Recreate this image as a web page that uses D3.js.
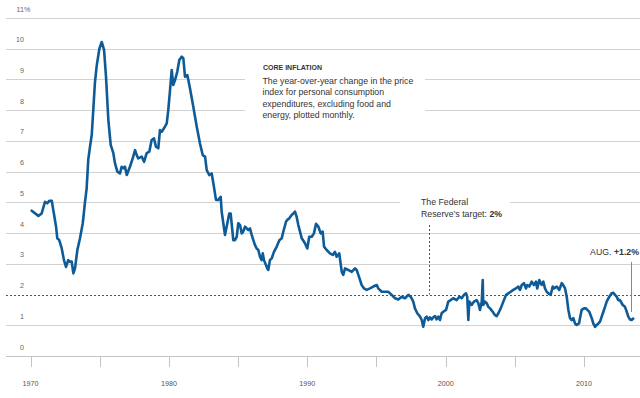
<!DOCTYPE html>
<html>
<head>
<meta charset="utf-8">
<script src="https://cdn.jsdelivr.net/npm/d3@7"></script>
<style>
  html, body { margin: 0; padding: 0; background: #fff; }
  svg { display: block; font-family: "Liberation Sans", Arial, sans-serif; }
</style>
</head>
<body>
<svg id="chart" width="640" height="398"></svg>
<script>
// ---- Data (decimal year, core PCE inflation %) ----
const years = [
  1970.08,1970.56,1970.80,1971.04,1971.21,1971.35,1971.53,1971.64,1971.84,1971.93,
  1972.07,1972.25,1972.41,1972.56,1972.72,1972.85,1972.97,1973.09,1973.21,1973.38,
  1973.57,1973.77,1973.93,1974.05,1974.17,1974.29,1974.42,1974.53,1974.65,1974.78,
  1974.97,1975.14,1975.31,1975.45,1975.62,1975.79,1975.98,1976.10,1976.27,1976.46,
  1976.58,1976.70,1976.82,1976.95,1977.18,1977.38,1977.55,1977.67,1977.78,1978.03,
  1978.20,1978.39,1978.58,1978.75,1978.92,1979.06,1979.23,1979.35,1979.48,1979.64,
  1979.84,1979.95,1980.08,1980.20,1980.31,1980.44,1980.60,1980.75,1980.92,1981.04,
  1981.16,1981.33,1981.52,1981.76,1982.01,1982.24,1982.44,1982.61,1982.73,1982.92,
  1983.09,1983.21,1983.40,1983.57,1983.74,1983.81,1983.93,1984.05,1984.17,1984.36,
  1984.46,1984.65,1984.77,1984.90,1985.01,1985.14,1985.26,1985.37,1985.50,1985.62,
  1985.74,1985.86,1985.98,1986.10,1986.22,1986.34,1986.46,1986.58,1986.70,1986.78,
  1986.87,1987.01,1987.11,1987.18,1987.30,1987.43,1987.59,1987.79,1987.98,1988.15,
  1988.27,1988.46,1988.55,1988.70,1988.87,1988.99,1989.11,1989.23,1989.35,1989.60,
  1989.83,1990.00,1990.14,1990.32,1990.48,1990.63,1990.80,1990.97,1991.11,1991.21,
  1991.40,1991.64,1991.84,1992.00,1992.12,1992.31,1992.49,1992.60,1992.73,1992.96,
  1993.21,1993.45,1993.57,1993.69,1993.93,1994.10,1994.29,1994.53,1994.77,1995.02,
  1995.13,1995.38,1995.62,1995.85,1996.10,1996.34,1996.58,1996.82,1997.06,1997.30,
  1997.47,1997.66,1997.78,1997.95,1998.15,1998.27,1998.38,1998.51,1998.63,1998.75,
  1998.87,1998.99,1999.11,1999.23,1999.35,1999.47,1999.59,1999.71,1999.83,2000.03,
  2000.19,2000.36,2000.55,2000.80,2000.99,2001.16,2001.33,2001.47,2001.56,2001.64,
  2001.71,2001.88,2002.05,2002.24,2002.36,2002.48,2002.61,2002.68,2002.72,2002.84,
  2002.97,2003.08,2003.21,2003.40,2003.57,2003.69,2003.81,2003.98,2004.17,2004.37,
  2004.53,2004.70,2004.89,2005.08,2005.25,2005.37,2005.50,2005.66,2005.81,2005.90,
  2006.05,2006.22,2006.38,2006.53,2006.62,2006.77,2006.94,2007.06,2007.18,2007.30,
  2007.42,2007.59,2007.74,2007.83,2008.03,2008.21,2008.39,2008.50,2008.63,2008.75,
  2008.87,2008.99,2009.11,2009.23,2009.35,2009.47,2009.64,2009.71,2009.83,2010.00,
  2010.14,2010.24,2010.38,2010.56,2010.67,2010.80,2010.92,2011.04,2011.16,2011.28,
  2011.40,2011.52,2011.64,2011.83,2012.00,2012.12,2012.24,2012.36,2012.48,2012.60,
  2012.80,2012.96,2013.09,2013.20,2013.32,2013.44,2013.56
];
const coreInflation = [
  4.73,4.56,4.64,5.02,4.97,5.05,5.05,4.75,4.21,3.83,
  3.77,3.50,3.12,2.90,3.12,3.07,3.07,2.69,2.85,3.45,
  3.83,4.32,5.00,5.45,6.40,6.80,7.20,8.00,8.90,9.45,
  10.00,10.22,9.96,9.09,7.68,6.87,6.60,6.27,6.00,5.94,
  6.16,6.11,6.16,5.89,6.16,6.43,6.70,6.54,6.43,6.49,
  6.32,6.60,6.65,7.03,7.08,6.81,6.76,7.35,7.30,7.41,
  7.57,8.00,8.66,9.31,8.82,8.98,9.25,9.63,9.74,9.69,
  9.09,9.14,8.71,8.11,7.46,6.92,6.54,6.49,6.05,5.89,
  5.94,5.62,5.08,5.08,5.18,4.70,4.32,3.94,4.21,4.64,
  4.64,3.77,3.77,3.88,4.32,4.26,3.99,4.05,4.21,4.15,
  4.10,4.15,3.94,3.77,3.61,3.50,3.45,3.23,3.12,3.34,
  3.12,2.96,2.85,2.80,3.12,3.18,3.39,3.56,3.77,3.83,
  4.05,4.37,4.43,4.48,4.59,4.64,4.70,4.53,4.26,3.83,
  3.67,3.50,3.88,3.88,3.99,4.30,4.21,3.99,4.05,3.56,
  3.45,3.34,3.29,3.39,3.23,3.34,2.74,2.64,2.85,2.80,
  2.74,2.85,2.80,2.64,2.31,2.20,2.15,2.20,2.26,2.31,
  2.20,2.09,2.09,2.09,1.99,1.88,1.84,1.93,1.88,1.99,
  1.93,1.77,1.55,1.39,1.28,1.17,0.95,1.23,1.28,1.17,
  1.26,1.19,1.26,1.30,1.19,1.28,1.17,1.39,1.44,1.50,
  1.77,1.82,1.88,1.82,1.93,1.88,1.99,2.04,1.93,1.17,
  1.77,1.66,1.77,1.82,1.72,1.50,1.77,2.47,1.66,1.77,
  1.72,1.60,1.55,1.44,1.33,1.30,1.39,1.55,1.77,1.99,
  2.04,2.09,2.15,2.20,2.26,2.15,2.31,2.37,2.20,2.31,
  2.26,2.42,2.31,2.42,2.20,2.47,2.31,2.42,2.20,2.09,
  2.04,1.99,2.26,2.20,2.26,2.15,2.37,2.31,2.20,1.93,
  1.50,1.23,1.17,1.23,1.06,1.01,1.06,1.23,1.50,1.55,
  1.55,1.50,1.44,1.23,1.06,0.95,1.01,1.06,1.12,1.28,
  1.44,1.60,1.77,1.93,2.04,2.06,1.99,1.93,1.82,1.82,
  1.66,1.60,1.44,1.28,1.19,1.17,1.22
];
const yTicks = [0,1,3,4,5,6,7,8,9,10,11];
const yLabels = ["0","1","2","3","4","5","6","7","8","9","10","11"];
const targetValue = 2;
const xTicks = [1970,1975,1980,1985,1990,1995,2000,2005,2010];
const xLabelYears = [1970,1980,1990,2000,2010];
const targetYear = 1998.8;
const latestYear = 2013.56;
const latestValue = 1.22;

// ---- Scales ----
const x = d3.scaleLinear().domain([1970, 2010]).range([30.6, 584]);
const y = d3.scaleLinear().domain([0, 11]).range([356, 18]);

const svg = d3.select("#chart");
const gridLeft = 6, gridRight = 640;

// Gridlines
svg.append("g").selectAll("line").data(yTicks).join("line")
  .attr("x1", gridLeft).attr("x2", gridRight)
  .attr("y1", d => Math.round(y(d)) + 0.5).attr("y2", d => Math.round(y(d)) + 0.5)
  .attr("stroke", d => d === 0 ? "#c4c4c4" : "#d2d2d2").attr("stroke-width", 1);

// Target line (dashed)
svg.append("line")
  .attr("x1", gridLeft).attr("x2", gridRight)
  .attr("y1", Math.round(y(targetValue)) + 0.5).attr("y2", Math.round(y(targetValue)) + 0.5)
  .attr("stroke", "#555").attr("stroke-width", 1).attr("stroke-dasharray", "2,2");

// Y labels
const yl = svg.append("g").attr("font-size", 7.2).attr("fill", "#666");
yLabels.forEach((lab, i) => {
  yl.append("text").attr("x", 24).attr("y", y(i) - 6.5)
    .attr("text-anchor", "end").text(lab);
});
yl.append("text").attr("x", 24).attr("y", y(11) - 6.5).text("%");

// X ticks
svg.append("g").selectAll("line").data(xTicks).join("line")
  .attr("x1", d => Math.round(x(d)) + 0.5).attr("x2", d => Math.round(x(d)) + 0.5)
  .attr("y1", 357).attr("y2", 367)
  .attr("stroke", "#c4c4c4").attr("stroke-width", 1);

svg.append("g").selectAll("text").data(xLabelYears).join("text")
  .attr("x", d => x(d)).attr("y", 385.5)
  .attr("text-anchor", "middle").attr("font-size", 7.2).attr("fill", "#555")
  .text(d => d);

// Text boxes (white backgrounds interrupting gridlines)
svg.append("rect").attr("x", 245).attr("y", 57).attr("width", 180).attr("height", 70).attr("fill", "#fff");
svg.append("rect").attr("x", 400).attr("y", 193).attr("width", 110).attr("height", 28).attr("fill", "#fff");

// Target vertical marker
svg.append("line")
  .attr("x1", Math.round(x(targetYear)) + 0.5).attr("x2", Math.round(x(targetYear)) + 0.5)
  .attr("y1", 225).attr("y2", y(targetValue))
  .attr("stroke", "#555").attr("stroke-width", 1).attr("stroke-dasharray", "2,2");

// Latest value marker
svg.append("line")
  .attr("x1", Math.round(x(latestYear)) - 1.5).attr("x2", Math.round(x(latestYear)) - 1.5)
  .attr("y1", 262).attr("y2", 312)
  .attr("stroke", "#888").attr("stroke-width", 1);

// Data line
const pts = years.map((yr, i) => [yr, coreInflation[i]]);
svg.append("path").datum(pts)
  .attr("fill", "none").attr("stroke", "#0e5b97").attr("stroke-width", 2.6)
  .attr("stroke-linejoin", "round").attr("stroke-linecap", "round")
  .attr("d", d3.line().x(d => x(d[0])).y(d => y(d[1])));

// Annotation: core inflation
const ann = svg.append("g").attr("fill", "#333");
ann.append("text").attr("x", 263).attr("y", 69.5).attr("font-size", 7).attr("font-weight", "bold")
  .text("CORE INFLATION");
const annLines = [
  "The year-over-year change in the price",
  "index for personal consumption",
  "expenditures, excluding food and",
  "energy, plotted monthly."
];
annLines.forEach((t, i) => {
  ann.append("text").attr("x", 262.5).attr("y", 83.8 + i * 11.5).attr("font-size", 8.75).text(t);
});

// Target annotation
const fed = svg.append("g").attr("fill", "#333").attr("font-size", 8.75);
fed.append("text").attr("x", 421).attr("y", 205).text("The Federal");
const fed2 = fed.append("text").attr("x", 421).attr("y", 216.5);
fed2.append("tspan").text("Reserve\u2019s target: ");
fed2.append("tspan").attr("font-weight", "bold").text("2%");

// Latest annotation
const aug = svg.append("text").attr("x", 639).attr("y", 255).attr("text-anchor", "end")
  .attr("font-size", 8.75).attr("fill", "#333");
aug.append("tspan").text("AUG. ");
aug.append("tspan").attr("font-weight", "bold").text("+1.2%");
</script>
</body>
</html>
